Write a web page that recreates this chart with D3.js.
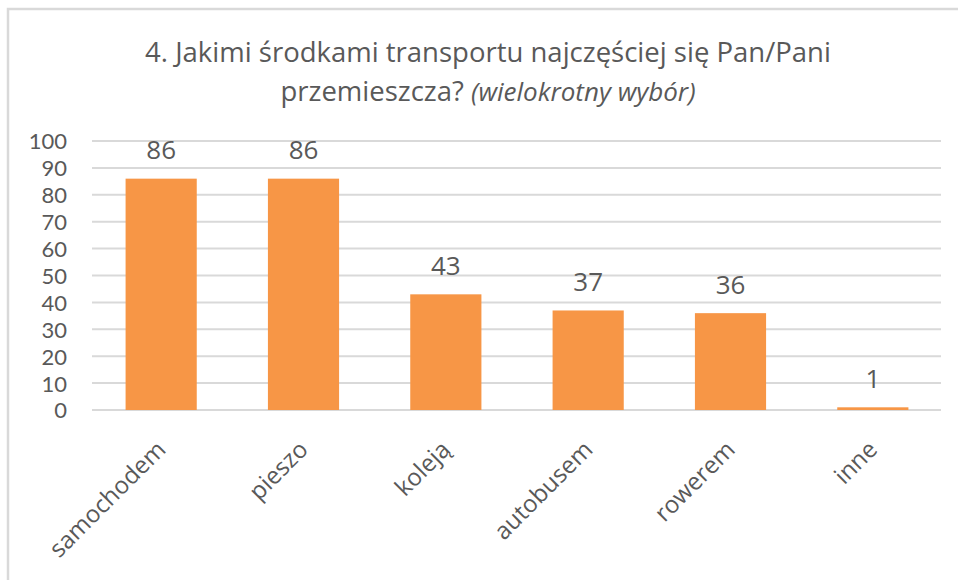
<!DOCTYPE html>
<html><head><meta charset="utf-8">
<script src="https://cdn.jsdelivr.net/npm/d3@7/dist/d3.min.js"></script>
<style>body{margin:0;background:#fff;} svg{display:block;}</style>
</head><body>
<svg id="chart" width="958" height="580"></svg>
<script>
const categories = ["samochodem", "pieszo", "koleją", "autobusem", "rowerem", "inne"];
const values = [86, 86, 43, 37, 36, 1];
const yTicks = [0, 10, 20, 30, 40, 50, 60, 70, 80, 90, 100];
const titleLine1 = "4. Jakimi środkami transportu najczęściej się Pan/Pani";
const titleLine2a = "przemieszcza? ";
const titleLine2b = "(wielokrotny wybór)";

const svg = d3.select("#chart");
const font = "'Open Sans', 'Liberation Sans', sans-serif";
const tickFont = "Lato, 'Open Sans', sans-serif";
const txt = "#595959";

// frame
svg.append("rect").attr("x", 8).attr("y", 9).attr("width", 980).attr("height", 600)
  .attr("fill", "#fff").attr("stroke", "#d9d9d9").attr("stroke-width", 2.5);

const x = d3.scaleBand().domain(categories).range([90, 944]).paddingInner(0.5).paddingOuter(0.25);
const y = d3.scaleLinear().domain([0, 100]).range([410, 141]);

// gridlines
svg.append("g").selectAll("line").data(yTicks).join("line")
  .attr("x1", 92).attr("x2", 941)
  .attr("y1", d => y(d)).attr("y2", d => y(d))
  .attr("stroke", "#d9d9d9").attr("stroke-width", 2);

// y axis labels
const yAxis = d3.axisLeft(y).tickValues(yTicks).tickSize(0).tickPadding(0);
const gy = svg.append("g").attr("transform", "translate(67,0)").call(yAxis);
gy.select(".domain").remove();
gy.selectAll("text").attr("font-family", tickFont).attr("font-size", 22).attr("fill", txt)
  .attr("dy", "0.36em");

// bars
svg.append("g").selectAll("rect").data(values).join("rect")
  .attr("x", (d, i) => x(categories[i]))
  .attr("width", x.bandwidth())
  .attr("y", d => y(d))
  .attr("height", d => y(0) - y(d))
  .attr("fill", "#f79646");

// data labels
svg.append("g").selectAll("text").data(values).join("text")
  .attr("x", (d, i) => x(categories[i]) + x.bandwidth() / 2)
  .attr("y", d => y(d) - 19.5)
  .attr("text-anchor", "middle")
  .attr("font-family", font).attr("font-size", 26).attr("fill", txt)
  .text(d => d);

// x axis labels
const xAxis = d3.axisBottom(x).tickSize(0).tickPadding(0);
const gx = svg.append("g").attr("transform", "translate(0,410)").call(xAxis);
gx.select(".domain").remove();
gx.selectAll("text")
  .attr("font-family", font).attr("font-size", 24).attr("fill", txt)
  .attr("text-anchor", "end")
  .attr("transform", "translate(0,35) rotate(-45)")
  .attr("dy", "0.35em").attr("y", 0);

// title
const t1 = svg.append("text").attr("x", 488).attr("y", 62).attr("text-anchor", "middle")
  .attr("font-family", font).attr("font-size", 27.5).attr("fill", txt).text(titleLine1);
const t2 = svg.append("text").attr("x", 488).attr("y", 101).attr("text-anchor", "middle")
  .attr("font-family", font).attr("font-size", 27.5).attr("fill", txt);
t2.append("tspan").text(titleLine2a);
t2.append("tspan").attr("font-style", "italic").attr("font-size", 26).text(titleLine2b);
</script>
</body></html>
